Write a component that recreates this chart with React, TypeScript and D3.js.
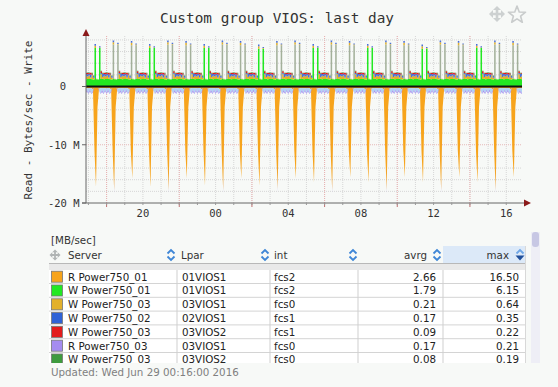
import React from 'react';
import * as d3 from 'd3';

const W = 558;
const H = 387;

// graph window ("last day")
const T0 = new Date(2016, 5, 28, 16, 52);
const T1 = new Date(2016, 5, 29, 16, 52);
const FIRST_HOUR = new Date(2016, 5, 28, 17, 0);

const xLabelHours = [20, 0, 4, 8, 12, 16];
const majorHours = [18, 22, 2, 6, 10, 14];
const yTickValues = [0, -10, -20];
const yTickLabels = ['0', '-10 M', '-20 M'];

// hourly bursts, one entry per hour from 17:00 to 16:00 (MB/s)
const readBurst = [17.2, 17.8, 15.8, 17.2, 17.8, 15.8, 17.0, 17.8, 15.8, 17.0, 17.6, 15.8,
  16.4, 17.8, 15.6, 16.4, 17.8, 15.6, 16.4, 17.8, 15.6, 16.4, 17.8, 15.6];
const readTip = [0, 0.5, 0, 0, 0.5, 0, 0, 0.5, 0, 0, 0.5, 0,
  0, 0.5, 0, 0, 0.5, 0, 0, 0.5, 0, 0, 0.5, 0];
const greenBurst = [6.6, 0, 0, 6.6, 0, 0, 6.6, 0, 0, 6.5, 0, 0,
  6.6, 0, 0, 6.6, 0, 0, 6.5, 0, 0, 6.6, 0, 0];
const oliveBurst = [0, 5.9, 5.8, 0, 5.9, 5.8, 0, 5.9, 5.8, 0, 5.8, 5.9,
  0, 5.9, 5.8, 0, 5.9, 5.8, 0, 5.9, 5.8, 0, 5.9, 5.8];

// 5-minute profile inside every hour, :00 .. :55 (MB/s)
const BURST_SLOT = 5;
const WRITE_SLOTS = [4, 7];
const orangeProfile = [0.3, 0.25, 0.3, 0.5, 11.0, 0, 3.5, 0.4, 0.3, 0.25, 0.3, 0.3];
const lightBlueProfile = [0.8, 0.2, 0.9, 0.2, 0, 0, 0, 0.1, 0.9, 0.3, 0.8, 0.2];
const purpleProfile = [0.2, 0.4, 0.1, 0.3, 0, 0, 0, 0.2, 0.1, 0.4, 0.2, 0.3];
const greenProfile = [1.3, 1.35, 1.25, 1.2, 1.3, 1.25, 1.2, 1.3, 1.3, 1.35, 1.25, 1.3];
const yellowProfile = [0.6, 0.2, 0.7, 0.3, 0.4, 0.1, 0, 0.1, 0.8, 0.3, 0.6, 0.4];
const blueProfile = [0.3, 0.5, 0.1, 0.3, 0.3, 0, 0, 0.2, 0.2, 0.5, 0.3, 0.4];
const redProfile = [0.1, 0.3, 0.2, 0, 0, 0, 0, 0, 0.3, 0.1, 0.2, 0.2];
const darkGreenProfile = [0.1, 0, 0.1, 0.1, 0, 0, 0, 0, 0.1, 0.1, 0, 0.1];

// legend table
const servers = ['R Power750_01', 'W Power750_01', 'W Power750_03', 'W Power750_02', 'W Power750_03', 'R Power750_03', 'W Power750_03'];
const lpars = ['01VIOS1', '01VIOS1', '03VIOS1', '02VIOS1', '03VIOS2', '03VIOS1', '03VIOS2'];
const ints = ['fcs2', 'fcs2', 'fcs0', 'fcs1', 'fcs1', 'fcs0', 'fcs0'];
const avrg = [2.66, 1.79, 0.21, 0.17, 0.09, 0.17, 0.08];
const maxv = [16.5, 6.15, 0.64, 0.35, 0.22, 0.21, 0.19];
const rowColors = ['#f7a41c', '#22e822', '#e3b12b', '#2f62d6', '#e31b1b', '#a58cf0', '#3e9b3e'];

const COL = {
  orange: '#f7a41c', lightBlue: '#aed6f4', purple: '#a894f0',
  green: '#22e822', olive: '#a3b09a', yellow: '#e3b12b', blue: '#4a6fd8',
  red: '#e31b1b', darkGreen: '#3e9b3e',
};

const posKeys = ['green', 'olive', 'yellow', 'blue', 'red', 'darkGreen'];
const negKeys = ['orange', 'lightBlue', 'purple'];

const PL = 86, PR = 522, PT = 36, PB = 203;
const mono = 'DejaVu Sans Mono, monospace';
const sans = 'DejaVu Sans, Verdana, sans-serif';

function buildSamples() {
  const times = d3.timeMinute.every(5)!.range(new Date(2016, 5, 28, 16, 50), new Date(2016, 5, 29, 17, 0));
  return times.map((t) => {
    const slot = t.getMinutes() / 5;
    const h = Math.floor((+t - +FIRST_HOUR) / 3600000);
    const ok = h >= 0 && h < 24;
    const isBurst = ok && slot === BURST_SLOT;
    const isWrite = ok && WRITE_SLOTS.includes(slot);
    return {
      t,
      orange: isBurst ? readBurst[h] : orangeProfile[slot],
      lightBlue: lightBlueProfile[slot],
      purple: isBurst ? readTip[h] : purpleProfile[slot],
      green: isWrite ? Math.max(greenProfile[slot], greenBurst[h]) : greenProfile[slot],
      olive: isWrite ? oliveBurst[h] : 0,
      yellow: yellowProfile[slot],
      blue: blueProfile[slot],
      red: redProfile[slot],
      darkGreen: darkGreenProfile[slot],
    };
  });
}

function MoveIcon({ cx, cy, s, color }: { cx: number; cy: number; s: number; color: string }) {
  const k = s / 8;
  const d = 'M0,-8 L-4,-4 L-1.3,-4 L-1.3,-1.3 L-4,-1.3 L-4,-4 L-8,0 L-4,4 L-4,1.3 L-1.3,1.3 L-1.3,4 L-4,4 L0,8 L4,4 L1.3,4 L1.3,1.3 L4,1.3 L4,4 L8,0 L4,-4 L4,-1.3 L1.3,-1.3 L1.3,-4 L4,-4 Z';
  return <path d={d} transform={`translate(${cx},${cy}) scale(${k})`} fill={color} />;
}

function SortIcon({ cx, cy, active }: { cx: number; cy: number; active?: boolean }) {
  if (active) {
    return (
      <g>
        <polyline points={`${cx - 3.5},${cy - 1.5} ${cx},${cy - 5} ${cx + 3.5},${cy - 1.5}`} fill="none" stroke="#6ea6e6" strokeWidth={1.8} />
        <path d={`M${cx - 4.5},${cy + 0.5} L${cx + 4.5},${cy + 0.5} L${cx},${cy + 5.5} Z`} fill="#1f4f9a" />
      </g>
    );
  }
  return (
    <g fill="none" stroke="#3f86d6" strokeWidth={1.8}>
      <polyline points={`${cx - 3.5},${cy - 1.5} ${cx},${cy - 5} ${cx + 3.5},${cy - 1.5}`} />
      <polyline points={`${cx - 3.5},${cy + 1.5} ${cx},${cy + 5} ${cx + 3.5},${cy + 1.5}`} />
    </g>
  );
}

export default function App() {
  const x = d3.scaleTime().domain([T0, T1]).range([PL, PR]);
  const y = d3.scaleLinear().domain([-20, 8.5]).range([PB, 37]);
  const samples = buildSamples();

  const posStack = d3.stack<any>().keys(posKeys)(samples);
  const negStack = d3.stack<any>().keys(negKeys).value((d, k) => -d[k]).offset(d3.stackOffsetDiverging)(samples);

  const stepArea = d3.area<any>().x((d) => x(d.data.t)).y0((d) => y(d[0])).y1((d) => y(d[1])).curve(d3.curveStepAfter);
  const linArea = d3.area<any>().x((d) => x(d.data.t)).y0((d) => y(d[0])).y1((d) => y(d[1])).curve(d3.curveLinear);

  const hourTicks = d3.timeHour.range(T0, T1);
  const minorY = d3.range(-18, 9, 2).filter((v) => v % 10 !== 0);
  const majorTimes = hourTicks.filter((t) => majorHours.includes(t.getHours()));
  const labelTimes = hourTicks.filter((t) => xLabelHours.includes(t.getHours()));

  const starPts = d3.range(10).map((i) => {
    const r = i % 2 === 0 ? 9 : 3.8;
    const a = (i * Math.PI) / 5 - Math.PI / 2;
    return `${517 + r * Math.cos(a)},${15 + r * Math.sin(a)}`;
  }).join(' ');

  const rowY = (i: number) => 276.7 + i * 13.8;
  const colSep = [177, 270, 358, 443];

  return (
    <svg width={W} height={H} style={{ position: 'absolute', left: 0, top: 0 }}>
      <defs>
        <clipPath id="plot"><rect x={PL} y={28} width={PR - PL} height={PB - 28} /></clipPath>
        <clipPath id="tbl"><rect x={40} y={230} width={490} height={133} /></clipPath>
      </defs>
      <rect width={W} height={H} fill="#f7f9f7" />

      {/* title + icons */}
      <text x={277} y={22.5} textAnchor="middle" fontFamily={mono} fontSize={14.4} fill="#333">Custom group VIOS: last day</text>
      <MoveIcon cx={497} cy={14} s={8} color="#cdd1d1" />
      <polygon points={starPts} fill="none" stroke="#c9cccc" strokeWidth={1.6} strokeLinejoin="round" />

      {/* grid */}
      <g>
        {hourTicks.map((t, i) => (
          <line key={'vm' + i} x1={x(t)} x2={x(t)} y1={PT} y2={PB} stroke="#d6d6d6" strokeDasharray="1 1" />
        ))}
        {majorTimes.map((t, i) => (
          <line key={'vM' + i} x1={x(t)} x2={x(t)} y1={PT} y2={PB} stroke="#eab0b0" strokeDasharray="1 1" />
        ))}
        {minorY.map((v) => (
          <line key={'hm' + v} x1={PL} x2={PR} y1={y(v)} y2={y(v)} stroke="#d6d6d6" strokeDasharray="1 1" />
        ))}
        <line x1={PL} x2={PR} y1={y(-10)} y2={y(-10)} stroke="#e6b8b8" strokeDasharray="1 1" />
      </g>

      {/* data */}
      <g clipPath="url(#plot)">
        {negStack.map((s) => (
          <path key={s.key} d={linArea(s) ?? ''} fill={(COL as any)[s.key]} />
        ))}
        {posStack.map((s) => (
          <path key={s.key} d={stepArea(s) ?? ''} fill={(COL as any)[s.key]} />
        ))}
      </g>
      <line x1={PL} x2={PR} y1={y(0)} y2={y(0)} stroke="#111" strokeWidth={1.8} />

      {/* axes */}
      <line x1={PL} x2={PL} y1={PB} y2={34} stroke="#666" />
      <path d={`M${PL - 3.5},${36} L${PL + 3.5},${36} L${PL},${29} Z`} fill="#8b1a1a" />
      <line x1={PL - 4} x2={PR + 2} y1={PB} y2={PB} stroke="#666" />
      <path d={`M${PR + 2},${PB - 3.5} L${PR + 2},${PB + 3.5} L${PR + 9},${PB} Z`} fill="#8b1a1a" />
      {yTickValues.map((v) => (
        <line key={'yt' + v} x1={PL - 4} x2={PL} y1={y(v)} y2={y(v)} stroke="#666" />
      ))}
      {majorTimes.map((t, i) => (
        <line key={'xt' + i} x1={x(t)} x2={x(t)} y1={PB} y2={PB + 4} stroke="#c07070" />
      ))}
      {hourTicks.map((t, i) => (
        <line key={'xmt' + i} x1={x(t)} x2={x(t)} y1={PB} y2={PB + 2} stroke="#999" />
      ))}

      {yTickValues.map((v, i) => (
        <text key={'yl' + v} x={v === 0 ? 66 : 79.5} y={y(v) + 3.8} textAnchor="end" fontFamily={mono} fontSize={10.5} fill="#333">{yTickLabels[i]}</text>
      ))}
      {labelTimes.map((t, i) => (
        <text key={'xl' + i} x={x(t)} y={216.5} textAnchor="middle" fontFamily={mono} fontSize={10.5} fill="#333">{d3.timeFormat('%H')(t)}</text>
      ))}
      <text transform="translate(31.5,120) rotate(-90)" textAnchor="middle" fontFamily={mono} fontSize={11} fill="#333">Read - Bytes/sec - Write</text>

      {/* legend table */}
      <text x={51} y={243.5} fontFamily={sans} fontSize={10.3} fill="#333">[MB/sec]</text>
      <rect x={443} y={246} width={83} height={17} fill="#dce9f8" />
      <line x1={49} x2={526} y1={263.5} y2={263.5} stroke="#b8b8b8" />
      <rect x={49} y={264} width={477} height={6} fill="#e9e9e9" />
      <MoveIcon cx={55} cy={255} s={5.5} color="#b0b4b4" />
      <text x={68} y={259} fontFamily={sans} fontSize={10.3} fill="#333">Server</text>
      <SortIcon cx={171} cy={255} />
      <text x={181} y={259} fontFamily={sans} fontSize={10.3} fill="#333">Lpar</text>
      <SortIcon cx={265} cy={255} />
      <text x={274} y={259} fontFamily={sans} fontSize={10.3} fill="#333">int</text>
      <SortIcon cx={353} cy={255} />
      <text x={427} y={259} textAnchor="end" fontFamily={sans} fontSize={10.3} fill="#333">avrg</text>
      <SortIcon cx={437} cy={255} />
      <text x={509} y={259} textAnchor="end" fontFamily={sans} fontSize={10.3} fill="#333">max</text>
      <SortIcon cx={520} cy={255} active />

      <g clipPath="url(#tbl)">
        <rect x={49} y={270} width={477} height={100} fill="#ffffff" />
        {servers.map((s, i) => (
          <g key={'r' + i}>
            <line x1={49} x2={526} y1={rowY(i) + 6.8} y2={rowY(i) + 6.8} stroke="#d4d4d4" />
            <rect x={51.5} y={rowY(i) - 5.5} width={11} height={11} fill={rowColors[i]} stroke="#777" strokeWidth={0.8} />
            <text x={68} y={rowY(i) + 3.8} fontFamily={sans} fontSize={10.3} fill="#222">{s}</text>
            <text x={182} y={rowY(i) + 3.8} fontFamily={sans} fontSize={10.3} fill="#222">{lpars[i]}</text>
            <text x={274} y={rowY(i) + 3.8} fontFamily={sans} fontSize={10.3} fill="#222">{ints[i]}</text>
            <text x={436} y={rowY(i) + 3.8} textAnchor="end" fontFamily={sans} fontSize={10.3} fill="#222">{avrg[i].toFixed(2)}</text>
            <text x={519} y={rowY(i) + 3.8} textAnchor="end" fontFamily={sans} fontSize={10.3} fill="#222">{maxv[i].toFixed(2)}</text>
          </g>
        ))}
        {colSep.map((cx) => (
          <line key={'cs' + cx} x1={cx} x2={cx} y1={270} y2={370} stroke="#cfcfcf" />
        ))}
        <line x1={525.5} x2={525.5} y1={246} y2={370} stroke="#d8d8d8" />
      </g>

      {/* scrollbar */}
      <rect x={531} y={232} width={9} height={131} fill="#eeeef6" />
      <rect x={532} y={232} width={7} height={15} rx={3} fill="#c7c7e4" />

      <text x={51} y={376} fontFamily={sans} fontSize={10.3} fill="#808080">Updated: Wed Jun 29 00:16:00 2016</text>
    </svg>
  );
}
